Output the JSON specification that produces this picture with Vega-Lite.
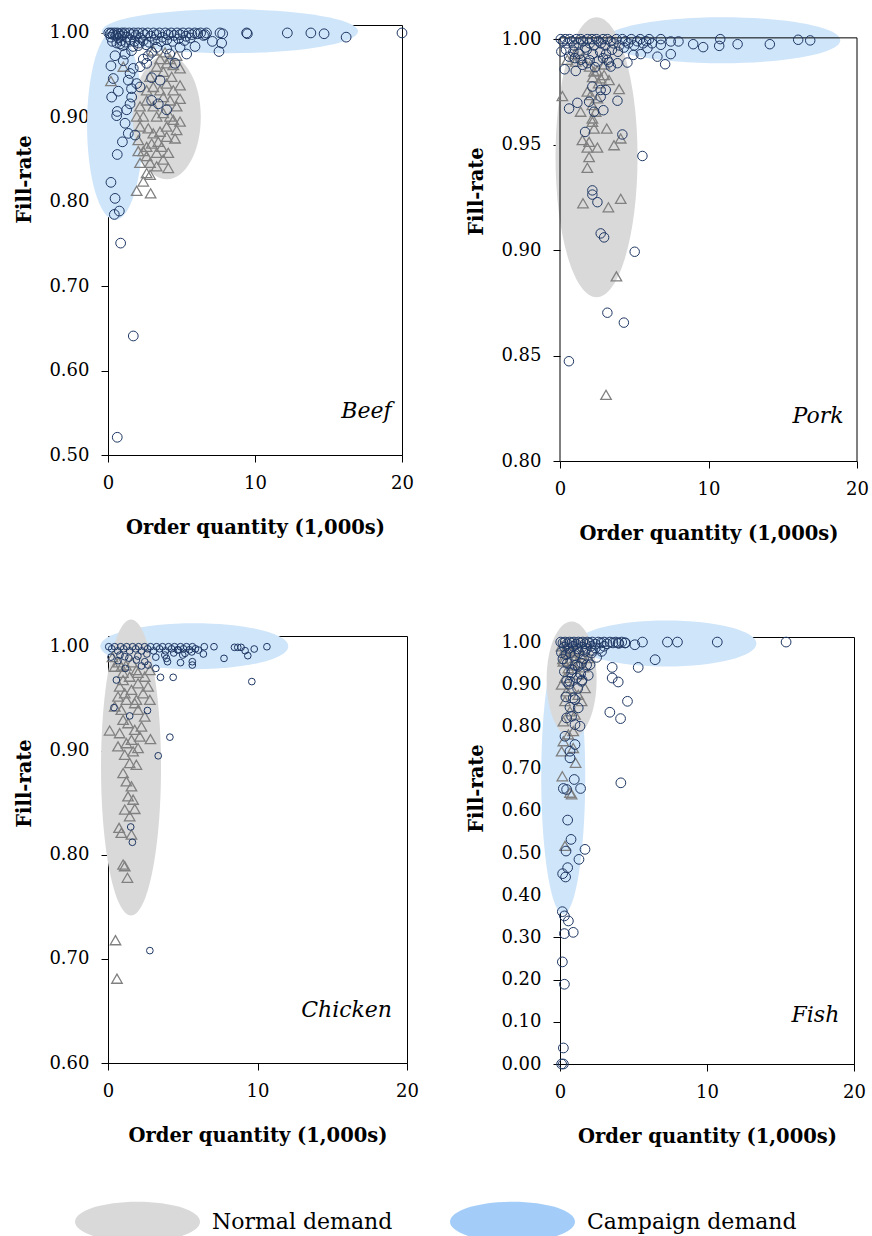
{
  "$schema": "https://vega.github.io/schema/vega-lite/v6.json",
  "background": "white",
  "padding": {"left": 14, "top": 8, "right": 5, "bottom": 5},
  "datasets": {
    "ellipses": [
      {"food": "Beef", "cluster": "campaign", "id": "beefC1", "qty": 8.3, "fill": 1.002},
      {"food": "Beef", "cluster": "campaign", "id": "beefC2", "qty": 0.48, "fill": 0.891},
      {"food": "Beef", "cluster": "normal", "id": "beefN", "qty": 4.0, "fill": 0.9},
      {"food": "Pork", "cluster": "campaign", "id": "porkC", "qty": 10.93, "fill": 0.9995},
      {"food": "Pork", "cluster": "normal", "id": "porkN", "qty": 2.46, "fill": 0.944},
      {"food": "Chicken", "cluster": "campaign", "id": "chickC", "qty": 5.77, "fill": 1.0005},
      {"food": "Chicken", "cluster": "normal", "id": "chickN", "qty": 1.54, "fill": 0.884},
      {"food": "Fish", "cluster": "campaign", "id": "fishC1", "qty": 7.24, "fill": 0.9965},
      {"food": "Fish", "cluster": "campaign", "id": "fishC2", "qty": 0.22, "fill": 0.68},
      {"food": "Fish", "cluster": "normal", "id": "fishN", "qty": 0.79, "fill": 0.911}
    ],
    "legendKeys": [{"demand": "Normal demand"}, {"demand": "Campaign demand"}],
    "points": [
      {"food":"Beef","demand":"Normal demand","qty":1.95,"fill":0.813},
      {"food":"Beef","demand":"Normal demand","qty":2.9,"fill":0.81},
      {"food":"Beef","demand":"Normal demand","qty":2.4,"fill":0.824},
      {"food":"Beef","demand":"Normal demand","qty":2.63,"fill":0.834},
      {"food":"Beef","demand":"Normal demand","qty":2.86,"fill":0.832},
      {"food":"Beef","demand":"Normal demand","qty":2.18,"fill":0.846},
      {"food":"Beef","demand":"Normal demand","qty":2.4,"fill":0.86},
      {"food":"Beef","demand":"Normal demand","qty":2.63,"fill":0.854},
      {"food":"Beef","demand":"Normal demand","qty":4.1,"fill":0.84},
      {"food":"Beef","demand":"Normal demand","qty":3.76,"fill":0.85},
      {"food":"Beef","demand":"Normal demand","qty":3.31,"fill":0.858},
      {"food":"Beef","demand":"Normal demand","qty":4.56,"fill":0.875},
      {"food":"Beef","demand":"Normal demand","qty":3.99,"fill":0.877},
      {"food":"Beef","demand":"Normal demand","qty":4.9,"fill":0.895},
      {"food":"Beef","demand":"Normal demand","qty":4.44,"fill":0.897},
      {"food":"Beef","demand":"Normal demand","qty":4.9,"fill":0.922},
      {"food":"Beef","demand":"Normal demand","qty":4.9,"fill":0.938},
      {"food":"Beef","demand":"Normal demand","qty":4.9,"fill":0.958},
      {"food":"Beef","demand":"Normal demand","qty":4.67,"fill":0.973},
      {"food":"Beef","demand":"Normal demand","qty":0.2,"fill":0.943},
      {"food":"Beef","demand":"Normal demand","qty":1.04,"fill":0.96},
      {"food":"Beef","demand":"Normal demand","qty":2.18,"fill":0.889},
      {"food":"Beef","demand":"Normal demand","qty":2.74,"fill":0.887},
      {"food":"Beef","demand":"Normal demand","qty":3.08,"fill":0.881},
      {"food":"Beef","demand":"Normal demand","qty":3.54,"fill":0.883},
      {"food":"Beef","demand":"Normal demand","qty":3.99,"fill":0.889},
      {"food":"Beef","demand":"Normal demand","qty":2.97,"fill":0.869},
      {"food":"Beef","demand":"Normal demand","qty":3.42,"fill":0.871},
      {"food":"Beef","demand":"Normal demand","qty":2.63,"fill":0.865},
      {"food":"Beef","demand":"Normal demand","qty":2.06,"fill":0.873},
      {"food":"Beef","demand":"Normal demand","qty":2.4,"fill":0.901},
      {"food":"Beef","demand":"Normal demand","qty":3.31,"fill":0.901},
      {"food":"Beef","demand":"Normal demand","qty":3.76,"fill":0.905},
      {"food":"Beef","demand":"Normal demand","qty":4.22,"fill":0.901},
      {"food":"Beef","demand":"Normal demand","qty":3.08,"fill":0.913},
      {"food":"Beef","demand":"Normal demand","qty":2.63,"fill":0.92},
      {"food":"Beef","demand":"Normal demand","qty":3.76,"fill":0.924},
      {"food":"Beef","demand":"Normal demand","qty":4.22,"fill":0.92},
      {"food":"Beef","demand":"Normal demand","qty":4.44,"fill":0.932},
      {"food":"Beef","demand":"Normal demand","qty":3.99,"fill":0.94},
      {"food":"Beef","demand":"Normal demand","qty":3.54,"fill":0.932},
      {"food":"Beef","demand":"Normal demand","qty":3.08,"fill":0.936},
      {"food":"Beef","demand":"Normal demand","qty":2.63,"fill":0.932},
      {"food":"Beef","demand":"Normal demand","qty":4.33,"fill":0.948},
      {"food":"Beef","demand":"Normal demand","qty":3.76,"fill":0.954},
      {"food":"Beef","demand":"Normal demand","qty":3.31,"fill":0.96},
      {"food":"Beef","demand":"Normal demand","qty":3.99,"fill":0.964},
      {"food":"Beef","demand":"Normal demand","qty":4.44,"fill":0.962},
      {"food":"Beef","demand":"Normal demand","qty":2.86,"fill":0.948},
      {"food":"Beef","demand":"Normal demand","qty":3.54,"fill":0.969},
      {"food":"Beef","demand":"Normal demand","qty":4.22,"fill":0.969},
      {"food":"Beef","demand":"Normal demand","qty":2.18,"fill":0.913},
      {"food":"Beef","demand":"Normal demand","qty":1.95,"fill":0.901},
      {"food":"Beef","demand":"Normal demand","qty":4.67,"fill":0.913},
      {"food":"Beef","demand":"Normal demand","qty":4.67,"fill":0.885},
      {"food":"Beef","demand":"Normal demand","qty":2.06,"fill":0.86},
      {"food":"Beef","demand":"Normal demand","qty":2.86,"fill":0.846},
      {"food":"Beef","demand":"Normal demand","qty":3.31,"fill":0.842},
      {"food":"Beef","demand":"Normal demand","qty":3.65,"fill":0.865},
      {"food":"Beef","demand":"Normal demand","qty":4.1,"fill":0.858},
      {"food":"Beef","demand":"Normal demand","qty":3.88,"fill":0.977},
      {"food":"Beef","demand":"Normal demand","qty":3.08,"fill":0.979},
      {"food":"Beef","demand":"Campaign demand","qty":0.05,"fill":1.0},
      {"food":"Beef","demand":"Campaign demand","qty":0.15,"fill":0.999},
      {"food":"Beef","demand":"Campaign demand","qty":0.25,"fill":1.0},
      {"food":"Beef","demand":"Campaign demand","qty":0.35,"fill":0.998},
      {"food":"Beef","demand":"Campaign demand","qty":0.45,"fill":1.0},
      {"food":"Beef","demand":"Campaign demand","qty":0.55,"fill":0.997},
      {"food":"Beef","demand":"Campaign demand","qty":0.65,"fill":1.0},
      {"food":"Beef","demand":"Campaign demand","qty":0.75,"fill":0.999},
      {"food":"Beef","demand":"Campaign demand","qty":0.85,"fill":0.996},
      {"food":"Beef","demand":"Campaign demand","qty":0.95,"fill":1.0},
      {"food":"Beef","demand":"Campaign demand","qty":1.05,"fill":0.998},
      {"food":"Beef","demand":"Campaign demand","qty":1.15,"fill":1.0},
      {"food":"Beef","demand":"Campaign demand","qty":1.3,"fill":0.995},
      {"food":"Beef","demand":"Campaign demand","qty":1.45,"fill":1.0},
      {"food":"Beef","demand":"Campaign demand","qty":1.6,"fill":0.998},
      {"food":"Beef","demand":"Campaign demand","qty":1.75,"fill":1.0},
      {"food":"Beef","demand":"Campaign demand","qty":1.9,"fill":0.997},
      {"food":"Beef","demand":"Campaign demand","qty":2.05,"fill":1.0},
      {"food":"Beef","demand":"Campaign demand","qty":2.2,"fill":0.994},
      {"food":"Beef","demand":"Campaign demand","qty":2.35,"fill":1.0},
      {"food":"Beef","demand":"Campaign demand","qty":2.5,"fill":0.998},
      {"food":"Beef","demand":"Campaign demand","qty":2.7,"fill":1.0},
      {"food":"Beef","demand":"Campaign demand","qty":2.9,"fill":0.996},
      {"food":"Beef","demand":"Campaign demand","qty":3.1,"fill":1.0},
      {"food":"Beef","demand":"Campaign demand","qty":3.3,"fill":0.998},
      {"food":"Beef","demand":"Campaign demand","qty":3.5,"fill":1.0},
      {"food":"Beef","demand":"Campaign demand","qty":3.7,"fill":0.995},
      {"food":"Beef","demand":"Campaign demand","qty":3.9,"fill":1.0},
      {"food":"Beef","demand":"Campaign demand","qty":4.1,"fill":0.998},
      {"food":"Beef","demand":"Campaign demand","qty":4.3,"fill":1.0},
      {"food":"Beef","demand":"Campaign demand","qty":4.5,"fill":0.997},
      {"food":"Beef","demand":"Campaign demand","qty":4.7,"fill":1.0},
      {"food":"Beef","demand":"Campaign demand","qty":4.9,"fill":0.998},
      {"food":"Beef","demand":"Campaign demand","qty":5.1,"fill":1.0},
      {"food":"Beef","demand":"Campaign demand","qty":5.3,"fill":0.996},
      {"food":"Beef","demand":"Campaign demand","qty":5.5,"fill":1.0},
      {"food":"Beef","demand":"Campaign demand","qty":5.7,"fill":0.998},
      {"food":"Beef","demand":"Campaign demand","qty":5.9,"fill":1.0},
      {"food":"Beef","demand":"Campaign demand","qty":6.1,"fill":0.999},
      {"food":"Beef","demand":"Campaign demand","qty":6.3,"fill":1.0},
      {"food":"Beef","demand":"Campaign demand","qty":6.6,"fill":0.998},
      {"food":"Beef","demand":"Campaign demand","qty":0.3,"fill":0.99},
      {"food":"Beef","demand":"Campaign demand","qty":0.6,"fill":0.988},
      {"food":"Beef","demand":"Campaign demand","qty":0.9,"fill":0.991},
      {"food":"Beef","demand":"Campaign demand","qty":1.2,"fill":0.989},
      {"food":"Beef","demand":"Campaign demand","qty":1.5,"fill":0.992},
      {"food":"Beef","demand":"Campaign demand","qty":1.8,"fill":0.99},
      {"food":"Beef","demand":"Campaign demand","qty":2.1,"fill":0.988},
      {"food":"Beef","demand":"Campaign demand","qty":2.4,"fill":0.991},
      {"food":"Beef","demand":"Campaign demand","qty":2.8,"fill":0.989},
      {"food":"Beef","demand":"Campaign demand","qty":3.2,"fill":0.992},
      {"food":"Beef","demand":"Campaign demand","qty":3.6,"fill":0.99},
      {"food":"Beef","demand":"Campaign demand","qty":4.0,"fill":0.992},
      {"food":"Beef","demand":"Campaign demand","qty":4.4,"fill":0.99},
      {"food":"Beef","demand":"Campaign demand","qty":4.8,"fill":0.993},
      {"food":"Beef","demand":"Campaign demand","qty":5.2,"fill":0.991},
      {"food":"Beef","demand":"Campaign demand","qty":5.6,"fill":0.994},
      {"food":"Beef","demand":"Campaign demand","qty":0.2,"fill":0.995},
      {"food":"Beef","demand":"Campaign demand","qty":0.7,"fill":0.994},
      {"food":"Beef","demand":"Campaign demand","qty":1.0,"fill":0.985},
      {"food":"Beef","demand":"Campaign demand","qty":1.7,"fill":0.984},
      {"food":"Beef","demand":"Campaign demand","qty":2.6,"fill":0.986},
      {"food":"Beef","demand":"Campaign demand","qty":6.7,"fill":1.0},
      {"food":"Beef","demand":"Campaign demand","qty":6.5,"fill":0.997},
      {"food":"Beef","demand":"Campaign demand","qty":7.62,"fill":1.0},
      {"food":"Beef","demand":"Campaign demand","qty":7.8,"fill":0.999},
      {"food":"Beef","demand":"Campaign demand","qty":9.43,"fill":1.0},
      {"food":"Beef","demand":"Campaign demand","qty":9.48,"fill":0.999},
      {"food":"Beef","demand":"Campaign demand","qty":12.2,"fill":1.0},
      {"food":"Beef","demand":"Campaign demand","qty":13.8,"fill":1.0},
      {"food":"Beef","demand":"Campaign demand","qty":14.7,"fill":0.999},
      {"food":"Beef","demand":"Campaign demand","qty":16.2,"fill":0.995},
      {"food":"Beef","demand":"Campaign demand","qty":20.0,"fill":1.0},
      {"food":"Beef","demand":"Campaign demand","qty":7.55,"fill":0.978},
      {"food":"Beef","demand":"Campaign demand","qty":7.73,"fill":0.988},
      {"food":"Beef","demand":"Campaign demand","qty":7.1,"fill":0.99},
      {"food":"Beef","demand":"Campaign demand","qty":5.35,"fill":0.975},
      {"food":"Beef","demand":"Campaign demand","qty":4.56,"fill":0.964},
      {"food":"Beef","demand":"Campaign demand","qty":5.92,"fill":0.984},
      {"food":"Beef","demand":"Campaign demand","qty":0.2,"fill":0.961},
      {"food":"Beef","demand":"Campaign demand","qty":0.36,"fill":0.946},
      {"food":"Beef","demand":"Campaign demand","qty":0.25,"fill":0.924},
      {"food":"Beef","demand":"Campaign demand","qty":0.7,"fill":0.931},
      {"food":"Beef","demand":"Campaign demand","qty":0.63,"fill":0.907},
      {"food":"Beef","demand":"Campaign demand","qty":0.59,"fill":0.902},
      {"food":"Beef","demand":"Campaign demand","qty":1.16,"fill":0.893},
      {"food":"Beef","demand":"Campaign demand","qty":1.38,"fill":0.881},
      {"food":"Beef","demand":"Campaign demand","qty":1.84,"fill":0.879},
      {"food":"Beef","demand":"Campaign demand","qty":0.98,"fill":0.871},
      {"food":"Beef","demand":"Campaign demand","qty":0.63,"fill":0.856},
      {"food":"Beef","demand":"Campaign demand","qty":0.2,"fill":0.823},
      {"food":"Beef","demand":"Campaign demand","qty":0.48,"fill":0.804},
      {"food":"Beef","demand":"Campaign demand","qty":0.43,"fill":0.785},
      {"food":"Beef","demand":"Campaign demand","qty":0.77,"fill":0.789},
      {"food":"Beef","demand":"Campaign demand","qty":0.86,"fill":0.751},
      {"food":"Beef","demand":"Campaign demand","qty":1.72,"fill":0.641},
      {"food":"Beef","demand":"Campaign demand","qty":0.63,"fill":0.521},
      {"food":"Beef","demand":"Campaign demand","qty":2.97,"fill":0.947},
      {"food":"Beef","demand":"Campaign demand","qty":3.54,"fill":0.944},
      {"food":"Beef","demand":"Campaign demand","qty":2.97,"fill":0.92},
      {"food":"Beef","demand":"Campaign demand","qty":3.42,"fill":0.916},
      {"food":"Beef","demand":"Campaign demand","qty":3.99,"fill":0.909},
      {"food":"Beef","demand":"Campaign demand","qty":1.5,"fill":0.952},
      {"food":"Beef","demand":"Campaign demand","qty":1.72,"fill":0.958},
      {"food":"Beef","demand":"Campaign demand","qty":1.95,"fill":0.94},
      {"food":"Beef","demand":"Campaign demand","qty":2.63,"fill":0.964},
      {"food":"Beef","demand":"Campaign demand","qty":2.74,"fill":0.973},
      {"food":"Beef","demand":"Campaign demand","qty":1.38,"fill":0.944},
      {"food":"Beef","demand":"Campaign demand","qty":1.5,"fill":0.916},
      {"food":"Beef","demand":"Campaign demand","qty":1.27,"fill":0.909},
      {"food":"Beef","demand":"Campaign demand","qty":1.61,"fill":0.924},
      {"food":"Beef","demand":"Campaign demand","qty":2.18,"fill":0.936},
      {"food":"Beef","demand":"Campaign demand","qty":1.16,"fill":0.975},
      {"food":"Beef","demand":"Campaign demand","qty":3.99,"fill":0.981},
      {"food":"Beef","demand":"Campaign demand","qty":3.31,"fill":0.983},
      {"food":"Beef","demand":"Campaign demand","qty":2.4,"fill":0.969},
      {"food":"Beef","demand":"Campaign demand","qty":2.18,"fill":0.96},
      {"food":"Beef","demand":"Campaign demand","qty":0.82,"fill":0.987},
      {"food":"Beef","demand":"Campaign demand","qty":0.48,"fill":0.973},
      {"food":"Beef","demand":"Campaign demand","qty":1.6,"fill":0.979},
      {"food":"Beef","demand":"Campaign demand","qty":2.06,"fill":0.985},
      {"food":"Beef","demand":"Campaign demand","qty":2.97,"fill":0.977},
      {"food":"Beef","demand":"Campaign demand","qty":4.2,"fill":0.975},
      {"food":"Beef","demand":"Campaign demand","qty":4.9,"fill":0.983},
      {"food":"Beef","demand":"Campaign demand","qty":1.04,"fill":0.967},
      {"food":"Beef","demand":"Campaign demand","qty":1.6,"fill":0.934},

      {"food":"Pork","demand":"Normal demand","qty":0.16,"fill":0.973},
      {"food":"Pork","demand":"Normal demand","qty":1.51,"fill":0.9521},
      {"food":"Pork","demand":"Normal demand","qty":1.84,"fill":0.9486},
      {"food":"Pork","demand":"Normal demand","qty":1.96,"fill":0.9441},
      {"food":"Pork","demand":"Normal demand","qty":1.84,"fill":0.939},
      {"food":"Pork","demand":"Normal demand","qty":2.52,"fill":0.9486},
      {"food":"Pork","demand":"Normal demand","qty":3.15,"fill":0.9576},
      {"food":"Pork","demand":"Normal demand","qty":3.64,"fill":0.9497},
      {"food":"Pork","demand":"Normal demand","qty":4.09,"fill":0.9529},
      {"food":"Pork","demand":"Normal demand","qty":3.98,"fill":0.9763},
      {"food":"Pork","demand":"Normal demand","qty":3.3,"fill":0.9806},
      {"food":"Pork","demand":"Normal demand","qty":1.55,"fill":0.9222},
      {"food":"Pork","demand":"Normal demand","qty":3.26,"fill":0.9203},
      {"food":"Pork","demand":"Normal demand","qty":4.09,"fill":0.9243},
      {"food":"Pork","demand":"Normal demand","qty":3.8,"fill":0.8875},
      {"food":"Pork","demand":"Normal demand","qty":1.39,"fill":0.9656},
      {"food":"Pork","demand":"Normal demand","qty":2.18,"fill":0.9624},
      {"food":"Pork","demand":"Normal demand","qty":2.4,"fill":0.9656},
      {"food":"Pork","demand":"Normal demand","qty":1.84,"fill":0.9751},
      {"food":"Pork","demand":"Normal demand","qty":2.74,"fill":0.9814},
      {"food":"Pork","demand":"Normal demand","qty":2.29,"fill":0.9846},
      {"food":"Pork","demand":"Normal demand","qty":2.97,"fill":0.983},
      {"food":"Pork","demand":"Normal demand","qty":2.07,"fill":0.9735},
      {"food":"Pork","demand":"Normal demand","qty":2.52,"fill":0.9719},
      {"food":"Pork","demand":"Normal demand","qty":2.18,"fill":0.9687},
      {"food":"Pork","demand":"Normal demand","qty":2.18,"fill":0.9608},
      {"food":"Pork","demand":"Normal demand","qty":2.29,"fill":0.9576},
      {"food":"Pork","demand":"Normal demand","qty":1.96,"fill":0.9513},
      {"food":"Pork","demand":"Normal demand","qty":1.06,"fill":0.9894},
      {"food":"Pork","demand":"Normal demand","qty":0.49,"fill":0.9902},
      {"food":"Pork","demand":"Normal demand","qty":3.1,"fill":0.8314},
      {"food":"Pork","demand":"Normal demand","qty":1.0,"fill":0.993},
      {"food":"Pork","demand":"Normal demand","qty":1.5,"fill":0.991},
      {"food":"Pork","demand":"Normal demand","qty":2.0,"fill":0.987},
      {"food":"Pork","demand":"Normal demand","qty":2.5,"fill":0.985},
      {"food":"Pork","demand":"Normal demand","qty":3.0,"fill":0.988},
      {"food":"Pork","demand":"Normal demand","qty":2.2,"fill":0.982},
      {"food":"Pork","demand":"Normal demand","qty":2.6,"fill":0.979},
      {"food":"Pork","demand":"Campaign demand","qty":0.05,"fill":1.0},
      {"food":"Pork","demand":"Campaign demand","qty":0.2,"fill":0.999},
      {"food":"Pork","demand":"Campaign demand","qty":0.35,"fill":1.0},
      {"food":"Pork","demand":"Campaign demand","qty":0.5,"fill":0.998},
      {"food":"Pork","demand":"Campaign demand","qty":0.65,"fill":1.0},
      {"food":"Pork","demand":"Campaign demand","qty":0.8,"fill":0.999},
      {"food":"Pork","demand":"Campaign demand","qty":0.95,"fill":0.997},
      {"food":"Pork","demand":"Campaign demand","qty":1.1,"fill":1.0},
      {"food":"Pork","demand":"Campaign demand","qty":1.25,"fill":0.998},
      {"food":"Pork","demand":"Campaign demand","qty":1.4,"fill":1.0},
      {"food":"Pork","demand":"Campaign demand","qty":1.55,"fill":0.999},
      {"food":"Pork","demand":"Campaign demand","qty":1.7,"fill":0.996},
      {"food":"Pork","demand":"Campaign demand","qty":1.85,"fill":1.0},
      {"food":"Pork","demand":"Campaign demand","qty":2.0,"fill":0.998},
      {"food":"Pork","demand":"Campaign demand","qty":2.15,"fill":1.0},
      {"food":"Pork","demand":"Campaign demand","qty":2.3,"fill":0.997},
      {"food":"Pork","demand":"Campaign demand","qty":2.45,"fill":1.0},
      {"food":"Pork","demand":"Campaign demand","qty":2.6,"fill":0.999},
      {"food":"Pork","demand":"Campaign demand","qty":2.75,"fill":0.998},
      {"food":"Pork","demand":"Campaign demand","qty":2.9,"fill":1.0},
      {"food":"Pork","demand":"Campaign demand","qty":3.05,"fill":0.997},
      {"food":"Pork","demand":"Campaign demand","qty":3.2,"fill":1.0},
      {"food":"Pork","demand":"Campaign demand","qty":3.4,"fill":0.999},
      {"food":"Pork","demand":"Campaign demand","qty":3.6,"fill":0.998},
      {"food":"Pork","demand":"Campaign demand","qty":3.8,"fill":1.0},
      {"food":"Pork","demand":"Campaign demand","qty":4.0,"fill":0.997},
      {"food":"Pork","demand":"Campaign demand","qty":4.2,"fill":1.0},
      {"food":"Pork","demand":"Campaign demand","qty":4.4,"fill":0.999},
      {"food":"Pork","demand":"Campaign demand","qty":4.6,"fill":0.998},
      {"food":"Pork","demand":"Campaign demand","qty":4.8,"fill":1.0},
      {"food":"Pork","demand":"Campaign demand","qty":5.0,"fill":0.997},
      {"food":"Pork","demand":"Campaign demand","qty":5.2,"fill":0.999},
      {"food":"Pork","demand":"Campaign demand","qty":5.4,"fill":1.0},
      {"food":"Pork","demand":"Campaign demand","qty":5.6,"fill":0.998},
      {"food":"Pork","demand":"Campaign demand","qty":5.8,"fill":0.999},
      {"food":"Pork","demand":"Campaign demand","qty":6.0,"fill":1.0},
      {"food":"Pork","demand":"Campaign demand","qty":6.2,"fill":0.998},
      {"food":"Pork","demand":"Campaign demand","qty":0.4,"fill":0.995},
      {"food":"Pork","demand":"Campaign demand","qty":0.9,"fill":0.994},
      {"food":"Pork","demand":"Campaign demand","qty":1.3,"fill":0.993},
      {"food":"Pork","demand":"Campaign demand","qty":1.8,"fill":0.995},
      {"food":"Pork","demand":"Campaign demand","qty":2.2,"fill":0.993},
      {"food":"Pork","demand":"Campaign demand","qty":2.7,"fill":0.994},
      {"food":"Pork","demand":"Campaign demand","qty":3.1,"fill":0.993},
      {"food":"Pork","demand":"Campaign demand","qty":3.5,"fill":0.995},
      {"food":"Pork","demand":"Campaign demand","qty":3.9,"fill":0.994},
      {"food":"Pork","demand":"Campaign demand","qty":4.3,"fill":0.996},
      {"food":"Pork","demand":"Campaign demand","qty":1.0,"fill":0.991},
      {"food":"Pork","demand":"Campaign demand","qty":2.0,"fill":0.99},
      {"food":"Pork","demand":"Campaign demand","qty":2.9,"fill":0.991},
      {"food":"Pork","demand":"Campaign demand","qty":3.3,"fill":0.989},
      {"food":"Pork","demand":"Campaign demand","qty":6.79,"fill":1.0},
      {"food":"Pork","demand":"Campaign demand","qty":7.46,"fill":0.9989},
      {"food":"Pork","demand":"Campaign demand","qty":7.98,"fill":0.9989},
      {"food":"Pork","demand":"Campaign demand","qty":8.97,"fill":0.9976},
      {"food":"Pork","demand":"Campaign demand","qty":9.64,"fill":0.9962},
      {"food":"Pork","demand":"Campaign demand","qty":10.72,"fill":0.9968},
      {"food":"Pork","demand":"Campaign demand","qty":10.79,"fill":1.0},
      {"food":"Pork","demand":"Campaign demand","qty":11.96,"fill":0.9976},
      {"food":"Pork","demand":"Campaign demand","qty":14.13,"fill":0.9976},
      {"food":"Pork","demand":"Campaign demand","qty":16.04,"fill":0.9997},
      {"food":"Pork","demand":"Campaign demand","qty":16.85,"fill":0.9994},
      {"food":"Pork","demand":"Campaign demand","qty":6.56,"fill":0.9917},
      {"food":"Pork","demand":"Campaign demand","qty":7.46,"fill":0.9929},
      {"food":"Pork","demand":"Campaign demand","qty":7.08,"fill":0.9881},
      {"food":"Pork","demand":"Campaign demand","qty":6.79,"fill":0.9973},
      {"food":"Pork","demand":"Campaign demand","qty":5.44,"fill":0.9929},
      {"food":"Pork","demand":"Campaign demand","qty":4.54,"fill":0.9889},
      {"food":"Pork","demand":"Campaign demand","qty":0.09,"fill":0.9941},
      {"food":"Pork","demand":"Campaign demand","qty":0.61,"fill":0.9917},
      {"food":"Pork","demand":"Campaign demand","qty":0.31,"fill":0.9857},
      {"food":"Pork","demand":"Campaign demand","qty":1.06,"fill":0.9849},
      {"food":"Pork","demand":"Campaign demand","qty":1.51,"fill":0.9878},
      {"food":"Pork","demand":"Campaign demand","qty":0.61,"fill":0.9671},
      {"food":"Pork","demand":"Campaign demand","qty":1.17,"fill":0.9698},
      {"food":"Pork","demand":"Campaign demand","qty":1.96,"fill":0.9703},
      {"food":"Pork","demand":"Campaign demand","qty":2.29,"fill":0.9656},
      {"food":"Pork","demand":"Campaign demand","qty":2.92,"fill":0.9663},
      {"food":"Pork","demand":"Campaign demand","qty":2.18,"fill":0.9775},
      {"food":"Pork","demand":"Campaign demand","qty":2.74,"fill":0.9759},
      {"food":"Pork","demand":"Campaign demand","qty":3.08,"fill":0.9759},
      {"food":"Pork","demand":"Campaign demand","qty":3.87,"fill":0.9708},
      {"food":"Pork","demand":"Campaign demand","qty":1.69,"fill":0.956},
      {"food":"Pork","demand":"Campaign demand","qty":4.2,"fill":0.9548},
      {"food":"Pork","demand":"Campaign demand","qty":5.55,"fill":0.9446},
      {"food":"Pork","demand":"Campaign demand","qty":2.18,"fill":0.9283},
      {"food":"Pork","demand":"Campaign demand","qty":2.18,"fill":0.9263},
      {"food":"Pork","demand":"Campaign demand","qty":2.52,"fill":0.9227},
      {"food":"Pork","demand":"Campaign demand","qty":2.74,"fill":0.9079},
      {"food":"Pork","demand":"Campaign demand","qty":2.97,"fill":0.906},
      {"food":"Pork","demand":"Campaign demand","qty":5.03,"fill":0.8992},
      {"food":"Pork","demand":"Campaign demand","qty":2.36,"fill":0.9867},
      {"food":"Pork","demand":"Campaign demand","qty":3.19,"fill":0.9902},
      {"food":"Pork","demand":"Campaign demand","qty":3.42,"fill":0.987},
      {"food":"Pork","demand":"Campaign demand","qty":1.84,"fill":0.9886},
      {"food":"Pork","demand":"Campaign demand","qty":1.39,"fill":0.9902},
      {"food":"Pork","demand":"Campaign demand","qty":2.52,"fill":0.9894},
      {"food":"Pork","demand":"Campaign demand","qty":3.87,"fill":0.9886},
      {"food":"Pork","demand":"Campaign demand","qty":4.94,"fill":0.9925},
      {"food":"Pork","demand":"Campaign demand","qty":5.89,"fill":0.9957},
      {"food":"Pork","demand":"Campaign demand","qty":2.74,"fill":0.9727},
      {"food":"Pork","demand":"Campaign demand","qty":3.19,"fill":0.8703},
      {"food":"Pork","demand":"Campaign demand","qty":4.3,"fill":0.8656},
      {"food":"Pork","demand":"Campaign demand","qty":0.6,"fill":0.8473},

      {"food":"Chicken","demand":"Normal demand","qty":0.11,"fill":0.9195},
      {"food":"Chicken","demand":"Normal demand","qty":2.8,"fill":0.9489},
      {"food":"Chicken","demand":"Normal demand","qty":2.84,"fill":0.9112},
      {"food":"Chicken","demand":"Normal demand","qty":0.74,"fill":0.8259},
      {"food":"Chicken","demand":"Normal demand","qty":1.01,"fill":0.7907},
      {"food":"Chicken","demand":"Normal demand","qty":1.12,"fill":0.7891},
      {"food":"Chicken","demand":"Normal demand","qty":1.3,"fill":0.778},
      {"food":"Chicken","demand":"Normal demand","qty":0.5,"fill":0.718},
      {"food":"Chicken","demand":"Normal demand","qty":0.6,"fill":0.681},
      {"food":"Chicken","demand":"Normal demand","qty":0.45,"fill":0.9808},
      {"food":"Chicken","demand":"Normal demand","qty":0.78,"fill":0.9617},
      {"food":"Chicken","demand":"Normal demand","qty":1.12,"fill":0.9553},
      {"food":"Chicken","demand":"Normal demand","qty":1.57,"fill":0.9585},
      {"food":"Chicken","demand":"Normal demand","qty":1.9,"fill":0.9489},
      {"food":"Chicken","demand":"Normal demand","qty":0.89,"fill":0.9393},
      {"food":"Chicken","demand":"Normal demand","qty":1.34,"fill":0.9265},
      {"food":"Chicken","demand":"Normal demand","qty":1.79,"fill":0.9201},
      {"food":"Chicken","demand":"Normal demand","qty":2.13,"fill":0.9137},
      {"food":"Chicken","demand":"Normal demand","qty":1.57,"fill":0.9105},
      {"food":"Chicken","demand":"Normal demand","qty":2.01,"fill":0.9026},
      {"food":"Chicken","demand":"Normal demand","qty":1.12,"fill":0.8962},
      {"food":"Chicken","demand":"Normal demand","qty":1.45,"fill":0.8882},
      {"food":"Chicken","demand":"Normal demand","qty":1.9,"fill":0.8866},
      {"food":"Chicken","demand":"Normal demand","qty":1.01,"fill":0.8786},
      {"food":"Chicken","demand":"Normal demand","qty":1.23,"fill":0.8706},
      {"food":"Chicken","demand":"Normal demand","qty":1.57,"fill":0.8658},
      {"food":"Chicken","demand":"Normal demand","qty":1.34,"fill":0.8562},
      {"food":"Chicken","demand":"Normal demand","qty":1.68,"fill":0.853},
      {"food":"Chicken","demand":"Normal demand","qty":1.12,"fill":0.8435},
      {"food":"Chicken","demand":"Normal demand","qty":1.79,"fill":0.8441},
      {"food":"Chicken","demand":"Normal demand","qty":1.45,"fill":0.8371},
      {"food":"Chicken","demand":"Normal demand","qty":0.89,"fill":0.8211},
      {"food":"Chicken","demand":"Normal demand","qty":1.57,"fill":0.8195},
      {"food":"Chicken","demand":"Normal demand","qty":0.67,"fill":0.9521},
      {"food":"Chicken","demand":"Normal demand","qty":1.01,"fill":0.968},
      {"food":"Chicken","demand":"Normal demand","qty":1.45,"fill":0.9712},
      {"food":"Chicken","demand":"Normal demand","qty":2.01,"fill":0.9649},
      {"food":"Chicken","demand":"Normal demand","qty":2.46,"fill":0.9712},
      {"food":"Chicken","demand":"Normal demand","qty":0.45,"fill":0.9425},
      {"food":"Chicken","demand":"Normal demand","qty":1.01,"fill":0.9297},
      {"food":"Chicken","demand":"Normal demand","qty":0.78,"fill":0.9169},
      {"food":"Chicken","demand":"Normal demand","qty":1.23,"fill":0.9073},
      {"food":"Chicken","demand":"Normal demand","qty":0.67,"fill":0.9042},
      {"food":"Chicken","demand":"Normal demand","qty":1.68,"fill":0.8994},
      {"food":"Chicken","demand":"Normal demand","qty":2.24,"fill":0.9233},
      {"food":"Chicken","demand":"Normal demand","qty":2.46,"fill":0.9329},
      {"food":"Chicken","demand":"Normal demand","qty":2.01,"fill":0.9393},
      {"food":"Chicken","demand":"Normal demand","qty":1.79,"fill":0.9457},
      {"food":"Chicken","demand":"Normal demand","qty":1.23,"fill":0.9489},
      {"food":"Chicken","demand":"Normal demand","qty":2.35,"fill":0.9553},
      {"food":"Chicken","demand":"Normal demand","qty":2.68,"fill":0.9617},
      {"food":"Chicken","demand":"Normal demand","qty":2.8,"fill":0.9776},
      {"food":"Chicken","demand":"Normal demand","qty":0.89,"fill":0.9808},
      {"food":"Chicken","demand":"Normal demand","qty":1.9,"fill":0.9776},
      {"food":"Chicken","demand":"Normal demand","qty":0.3,"fill":0.99},
      {"food":"Chicken","demand":"Normal demand","qty":0.7,"fill":0.985},
      {"food":"Chicken","demand":"Normal demand","qty":1.2,"fill":0.982},
      {"food":"Chicken","demand":"Normal demand","qty":1.6,"fill":0.985},
      {"food":"Chicken","demand":"Normal demand","qty":2.0,"fill":0.975},
      {"food":"Chicken","demand":"Normal demand","qty":1.0,"fill":0.975},
      {"food":"Chicken","demand":"Campaign demand","qty":0.05,"fill":1.0},
      {"food":"Chicken","demand":"Campaign demand","qty":0.25,"fill":0.998},
      {"food":"Chicken","demand":"Campaign demand","qty":0.45,"fill":1.0},
      {"food":"Chicken","demand":"Campaign demand","qty":0.65,"fill":0.996},
      {"food":"Chicken","demand":"Campaign demand","qty":0.85,"fill":1.0},
      {"food":"Chicken","demand":"Campaign demand","qty":1.05,"fill":0.998},
      {"food":"Chicken","demand":"Campaign demand","qty":1.25,"fill":1.0},
      {"food":"Chicken","demand":"Campaign demand","qty":1.45,"fill":0.996},
      {"food":"Chicken","demand":"Campaign demand","qty":1.65,"fill":1.0},
      {"food":"Chicken","demand":"Campaign demand","qty":1.85,"fill":0.998},
      {"food":"Chicken","demand":"Campaign demand","qty":2.05,"fill":1.0},
      {"food":"Chicken","demand":"Campaign demand","qty":2.25,"fill":0.996},
      {"food":"Chicken","demand":"Campaign demand","qty":2.45,"fill":1.0},
      {"food":"Chicken","demand":"Campaign demand","qty":2.65,"fill":0.998},
      {"food":"Chicken","demand":"Campaign demand","qty":2.85,"fill":1.0},
      {"food":"Chicken","demand":"Campaign demand","qty":3.05,"fill":0.996},
      {"food":"Chicken","demand":"Campaign demand","qty":3.25,"fill":1.0},
      {"food":"Chicken","demand":"Campaign demand","qty":3.45,"fill":0.998},
      {"food":"Chicken","demand":"Campaign demand","qty":3.65,"fill":1.0},
      {"food":"Chicken","demand":"Campaign demand","qty":3.85,"fill":0.996},
      {"food":"Chicken","demand":"Campaign demand","qty":4.05,"fill":1.0},
      {"food":"Chicken","demand":"Campaign demand","qty":4.25,"fill":0.998},
      {"food":"Chicken","demand":"Campaign demand","qty":4.45,"fill":1.0},
      {"food":"Chicken","demand":"Campaign demand","qty":4.65,"fill":0.997},
      {"food":"Chicken","demand":"Campaign demand","qty":4.85,"fill":1.0},
      {"food":"Chicken","demand":"Campaign demand","qty":5.05,"fill":0.998},
      {"food":"Chicken","demand":"Campaign demand","qty":5.25,"fill":1.0},
      {"food":"Chicken","demand":"Campaign demand","qty":5.45,"fill":0.997},
      {"food":"Chicken","demand":"Campaign demand","qty":5.65,"fill":1.0},
      {"food":"Chicken","demand":"Campaign demand","qty":5.85,"fill":0.998},
      {"food":"Chicken","demand":"Campaign demand","qty":0.2,"fill":0.99},
      {"food":"Chicken","demand":"Campaign demand","qty":0.8,"fill":0.992},
      {"food":"Chicken","demand":"Campaign demand","qty":1.4,"fill":0.989},
      {"food":"Chicken","demand":"Campaign demand","qty":2.0,"fill":0.991},
      {"food":"Chicken","demand":"Campaign demand","qty":2.6,"fill":0.993},
      {"food":"Chicken","demand":"Campaign demand","qty":3.2,"fill":0.99},
      {"food":"Chicken","demand":"Campaign demand","qty":3.8,"fill":0.992},
      {"food":"Chicken","demand":"Campaign demand","qty":4.4,"fill":0.994},
      {"food":"Chicken","demand":"Campaign demand","qty":5.0,"fill":0.992},
      {"food":"Chicken","demand":"Campaign demand","qty":5.6,"fill":0.995},
      {"food":"Chicken","demand":"Campaign demand","qty":7.09,"fill":1.0},
      {"food":"Chicken","demand":"Campaign demand","qty":7.76,"fill":0.9888},
      {"food":"Chicken","demand":"Campaign demand","qty":8.46,"fill":0.9994},
      {"food":"Chicken","demand":"Campaign demand","qty":8.68,"fill":0.9994},
      {"food":"Chicken","demand":"Campaign demand","qty":8.9,"fill":0.9994},
      {"food":"Chicken","demand":"Campaign demand","qty":9.17,"fill":0.9962},
      {"food":"Chicken","demand":"Campaign demand","qty":9.35,"fill":0.9914},
      {"food":"Chicken","demand":"Campaign demand","qty":9.78,"fill":0.9978},
      {"food":"Chicken","demand":"Campaign demand","qty":10.63,"fill":1.0},
      {"food":"Chicken","demand":"Campaign demand","qty":9.62,"fill":0.9665},
      {"food":"Chicken","demand":"Campaign demand","qty":6.44,"fill":1.0},
      {"food":"Chicken","demand":"Campaign demand","qty":6.38,"fill":0.993},
      {"food":"Chicken","demand":"Campaign demand","qty":5.64,"fill":0.9856},
      {"food":"Chicken","demand":"Campaign demand","qty":5.64,"fill":0.9824},
      {"food":"Chicken","demand":"Campaign demand","qty":4.85,"fill":0.9847},
      {"food":"Chicken","demand":"Campaign demand","qty":4.36,"fill":0.9706},
      {"food":"Chicken","demand":"Campaign demand","qty":3.51,"fill":0.9706},
      {"food":"Chicken","demand":"Campaign demand","qty":3.2,"fill":0.9792},
      {"food":"Chicken","demand":"Campaign demand","qty":3.98,"fill":0.9856},
      {"food":"Chicken","demand":"Campaign demand","qty":3.91,"fill":0.9888},
      {"food":"Chicken","demand":"Campaign demand","qty":2.68,"fill":0.9824},
      {"food":"Chicken","demand":"Campaign demand","qty":2.24,"fill":0.9815},
      {"food":"Chicken","demand":"Campaign demand","qty":1.16,"fill":0.9792},
      {"food":"Chicken","demand":"Campaign demand","qty":0.56,"fill":0.968},
      {"food":"Chicken","demand":"Campaign demand","qty":0.4,"fill":0.9415},
      {"food":"Chicken","demand":"Campaign demand","qty":1.45,"fill":0.9335},
      {"food":"Chicken","demand":"Campaign demand","qty":2.64,"fill":0.9387},
      {"food":"Chicken","demand":"Campaign demand","qty":4.14,"fill":0.9131},
      {"food":"Chicken","demand":"Campaign demand","qty":3.36,"fill":0.8952},
      {"food":"Chicken","demand":"Campaign demand","qty":1.52,"fill":0.8268},
      {"food":"Chicken","demand":"Campaign demand","qty":1.63,"fill":0.8121},
      {"food":"Chicken","demand":"Campaign demand","qty":0.67,"fill":0.9866},
      {"food":"Chicken","demand":"Campaign demand","qty":2.8,"fill":0.708},
      {"food":"Chicken","demand":"Campaign demand","qty":1.12,"fill":0.9904},
      {"food":"Chicken","demand":"Campaign demand","qty":1.9,"fill":0.9872},
      {"food":"Chicken","demand":"Campaign demand","qty":2.46,"fill":0.9856},
      {"food":"Chicken","demand":"Campaign demand","qty":5.15,"fill":0.9936},
      {"food":"Chicken","demand":"Campaign demand","qty":4.7,"fill":0.9968},
      {"food":"Chicken","demand":"Campaign demand","qty":6.04,"fill":0.9968},

      {"food":"Fish","demand":"Normal demand","qty":0.16,"fill":0.682},
      {"food":"Fish","demand":"Normal demand","qty":0.68,"fill":0.643},
      {"food":"Fish","demand":"Normal demand","qty":1.06,"fill":0.714},
      {"food":"Fish","demand":"Normal demand","qty":0.34,"fill":0.517},
      {"food":"Fish","demand":"Normal demand","qty":0.79,"fill":0.639},
      {"food":"Fish","demand":"Normal demand","qty":0.23,"fill":0.765},
      {"food":"Fish","demand":"Normal demand","qty":0.57,"fill":0.781},
      {"food":"Fish","demand":"Normal demand","qty":0.9,"fill":0.749},
      {"food":"Fish","demand":"Normal demand","qty":0.11,"fill":0.899},
      {"food":"Fish","demand":"Normal demand","qty":0.45,"fill":0.883},
      {"food":"Fish","demand":"Normal demand","qty":0.79,"fill":0.891},
      {"food":"Fish","demand":"Normal demand","qty":1.24,"fill":0.875},
      {"food":"Fish","demand":"Normal demand","qty":0.34,"fill":0.86},
      {"food":"Fish","demand":"Normal demand","qty":0.68,"fill":0.836},
      {"food":"Fish","demand":"Normal demand","qty":1.02,"fill":0.828},
      {"food":"Fish","demand":"Normal demand","qty":0.23,"fill":0.812},
      {"food":"Fish","demand":"Normal demand","qty":1.47,"fill":0.86},
      {"food":"Fish","demand":"Normal demand","qty":0.57,"fill":0.938},
      {"food":"Fish","demand":"Normal demand","qty":0.23,"fill":0.954},
      {"food":"Fish","demand":"Normal demand","qty":1.02,"fill":0.962},
      {"food":"Fish","demand":"Normal demand","qty":1.47,"fill":0.97},
      {"food":"Fish","demand":"Normal demand","qty":0.68,"fill":0.978},
      {"food":"Fish","demand":"Normal demand","qty":1.92,"fill":0.962},
      {"food":"Fish","demand":"Normal demand","qty":1.24,"fill":0.923},
      {"food":"Fish","demand":"Normal demand","qty":0.34,"fill":0.915},
      {"food":"Fish","demand":"Normal demand","qty":1.7,"fill":0.891},
      {"food":"Fish","demand":"Normal demand","qty":0.9,"fill":0.789},
      {"food":"Fish","demand":"Normal demand","qty":0.11,"fill":0.741},
      {"food":"Fish","demand":"Normal demand","qty":0.1,"fill":0.99},
      {"food":"Fish","demand":"Normal demand","qty":0.3,"fill":0.98},
      {"food":"Fish","demand":"Normal demand","qty":0.5,"fill":0.985},
      {"food":"Fish","demand":"Normal demand","qty":0.8,"fill":0.975},
      {"food":"Fish","demand":"Normal demand","qty":1.1,"fill":0.98},
      {"food":"Fish","demand":"Normal demand","qty":1.4,"fill":0.97},
      {"food":"Fish","demand":"Normal demand","qty":0.2,"fill":0.96},
      {"food":"Fish","demand":"Normal demand","qty":0.6,"fill":0.955},
      {"food":"Fish","demand":"Normal demand","qty":0.9,"fill":0.945},
      {"food":"Fish","demand":"Normal demand","qty":1.3,"fill":0.95},
      {"food":"Fish","demand":"Normal demand","qty":1.6,"fill":0.94},
      {"food":"Fish","demand":"Campaign demand","qty":0.05,"fill":1.0},
      {"food":"Fish","demand":"Campaign demand","qty":0.2,"fill":0.998},
      {"food":"Fish","demand":"Campaign demand","qty":0.35,"fill":1.0},
      {"food":"Fish","demand":"Campaign demand","qty":0.5,"fill":0.996},
      {"food":"Fish","demand":"Campaign demand","qty":0.65,"fill":1.0},
      {"food":"Fish","demand":"Campaign demand","qty":0.8,"fill":0.998},
      {"food":"Fish","demand":"Campaign demand","qty":0.95,"fill":1.0},
      {"food":"Fish","demand":"Campaign demand","qty":1.1,"fill":0.995},
      {"food":"Fish","demand":"Campaign demand","qty":1.25,"fill":1.0},
      {"food":"Fish","demand":"Campaign demand","qty":1.4,"fill":0.998},
      {"food":"Fish","demand":"Campaign demand","qty":1.55,"fill":1.0},
      {"food":"Fish","demand":"Campaign demand","qty":1.7,"fill":0.996},
      {"food":"Fish","demand":"Campaign demand","qty":1.85,"fill":1.0},
      {"food":"Fish","demand":"Campaign demand","qty":2.0,"fill":0.998},
      {"food":"Fish","demand":"Campaign demand","qty":2.2,"fill":1.0},
      {"food":"Fish","demand":"Campaign demand","qty":2.4,"fill":0.995},
      {"food":"Fish","demand":"Campaign demand","qty":2.6,"fill":1.0},
      {"food":"Fish","demand":"Campaign demand","qty":2.8,"fill":0.998},
      {"food":"Fish","demand":"Campaign demand","qty":3.0,"fill":1.0},
      {"food":"Fish","demand":"Campaign demand","qty":3.2,"fill":0.996},
      {"food":"Fish","demand":"Campaign demand","qty":3.4,"fill":1.0},
      {"food":"Fish","demand":"Campaign demand","qty":3.6,"fill":0.998},
      {"food":"Fish","demand":"Campaign demand","qty":3.8,"fill":1.0},
      {"food":"Fish","demand":"Campaign demand","qty":4.0,"fill":0.997},
      {"food":"Fish","demand":"Campaign demand","qty":4.2,"fill":1.0},
      {"food":"Fish","demand":"Campaign demand","qty":4.45,"fill":0.998},
      {"food":"Fish","demand":"Campaign demand","qty":0.3,"fill":0.988},
      {"food":"Fish","demand":"Campaign demand","qty":0.6,"fill":0.985},
      {"food":"Fish","demand":"Campaign demand","qty":0.9,"fill":0.99},
      {"food":"Fish","demand":"Campaign demand","qty":1.2,"fill":0.984},
      {"food":"Fish","demand":"Campaign demand","qty":1.5,"fill":0.988},
      {"food":"Fish","demand":"Campaign demand","qty":1.8,"fill":0.985},
      {"food":"Fish","demand":"Campaign demand","qty":2.1,"fill":0.99},
      {"food":"Fish","demand":"Campaign demand","qty":2.4,"fill":0.986},
      {"food":"Fish","demand":"Campaign demand","qty":0.1,"fill":0.975},
      {"food":"Fish","demand":"Campaign demand","qty":0.4,"fill":0.97},
      {"food":"Fish","demand":"Campaign demand","qty":0.7,"fill":0.975},
      {"food":"Fish","demand":"Campaign demand","qty":1.0,"fill":0.968},
      {"food":"Fish","demand":"Campaign demand","qty":1.3,"fill":0.975},
      {"food":"Fish","demand":"Campaign demand","qty":1.6,"fill":0.96},
      {"food":"Fish","demand":"Campaign demand","qty":2.2,"fill":0.98},
      {"food":"Fish","demand":"Campaign demand","qty":2.7,"fill":0.985},
      {"food":"Fish","demand":"Campaign demand","qty":3.0,"fill":0.99},
      {"food":"Fish","demand":"Campaign demand","qty":0.2,"fill":0.96},
      {"food":"Fish","demand":"Campaign demand","qty":0.5,"fill":0.95},
      {"food":"Fish","demand":"Campaign demand","qty":0.3,"fill":0.93},
      {"food":"Fish","demand":"Campaign demand","qty":0.8,"fill":0.935},
      {"food":"Fish","demand":"Campaign demand","qty":1.4,"fill":0.925},
      {"food":"Fish","demand":"Campaign demand","qty":0.6,"fill":0.9},
      {"food":"Fish","demand":"Campaign demand","qty":1.2,"fill":0.89},
      {"food":"Fish","demand":"Campaign demand","qty":0.4,"fill":0.87},
      {"food":"Fish","demand":"Campaign demand","qty":1.5,"fill":0.91},
      {"food":"Fish","demand":"Campaign demand","qty":5.09,"fill":0.9937},
      {"food":"Fish","demand":"Campaign demand","qty":5.61,"fill":1.0},
      {"food":"Fish","demand":"Campaign demand","qty":7.31,"fill":1.0},
      {"food":"Fish","demand":"Campaign demand","qty":7.99,"fill":1.0},
      {"food":"Fish","demand":"Campaign demand","qty":10.7,"fill":1.0},
      {"food":"Fish","demand":"Campaign demand","qty":15.38,"fill":1.0},
      {"food":"Fish","demand":"Campaign demand","qty":6.47,"fill":0.9582},
      {"food":"Fish","demand":"Campaign demand","qty":5.32,"fill":0.94},
      {"food":"Fish","demand":"Campaign demand","qty":3.55,"fill":0.94},
      {"food":"Fish","demand":"Campaign demand","qty":3.55,"fill":0.9148},
      {"food":"Fish","demand":"Campaign demand","qty":3.96,"fill":0.9054},
      {"food":"Fish","demand":"Campaign demand","qty":4.59,"fill":0.8596},
      {"food":"Fish","demand":"Campaign demand","qty":3.39,"fill":0.8336},
      {"food":"Fish","demand":"Campaign demand","qty":4.12,"fill":0.8186},
      {"food":"Fish","demand":"Campaign demand","qty":4.14,"fill":0.6664},
      {"food":"Fish","demand":"Campaign demand","qty":2.49,"fill":0.9637},
      {"food":"Fish","demand":"Campaign demand","qty":2.04,"fill":0.9464},
      {"food":"Fish","demand":"Campaign demand","qty":1.92,"fill":0.9211},
      {"food":"Fish","demand":"Campaign demand","qty":1.24,"fill":0.9424},
      {"food":"Fish","demand":"Campaign demand","qty":1.02,"fill":0.9448},
      {"food":"Fish","demand":"Campaign demand","qty":0.68,"fill":0.9069},
      {"food":"Fish","demand":"Campaign demand","qty":0.45,"fill":0.9069},
      {"food":"Fish","demand":"Campaign demand","qty":0.9,"fill":0.8675},
      {"food":"Fish","demand":"Campaign demand","qty":1.02,"fill":0.8636},
      {"food":"Fish","demand":"Campaign demand","qty":0.68,"fill":0.8454},
      {"food":"Fish","demand":"Campaign demand","qty":0.45,"fill":0.8202},
      {"food":"Fish","demand":"Campaign demand","qty":1.02,"fill":0.8044},
      {"food":"Fish","demand":"Campaign demand","qty":1.36,"fill":0.8005},
      {"food":"Fish","demand":"Campaign demand","qty":0.34,"fill":0.7768},
      {"food":"Fish","demand":"Campaign demand","qty":1.02,"fill":0.7571},
      {"food":"Fish","demand":"Campaign demand","qty":0.68,"fill":0.7413},
      {"food":"Fish","demand":"Campaign demand","qty":0.68,"fill":0.7256},
      {"food":"Fish","demand":"Campaign demand","qty":0.97,"fill":0.6743},
      {"food":"Fish","demand":"Campaign demand","qty":0.23,"fill":0.653},
      {"food":"Fish","demand":"Campaign demand","qty":0.45,"fill":0.6506},
      {"food":"Fish","demand":"Campaign demand","qty":1.4,"fill":0.653},
      {"food":"Fish","demand":"Campaign demand","qty":0.52,"fill":0.5781},
      {"food":"Fish","demand":"Campaign demand","qty":0.75,"fill":0.5323},
      {"food":"Fish","demand":"Campaign demand","qty":1.7,"fill":0.5087},
      {"food":"Fish","demand":"Campaign demand","qty":0.41,"fill":0.5047},
      {"food":"Fish","demand":"Campaign demand","qty":1.29,"fill":0.485},
      {"food":"Fish","demand":"Campaign demand","qty":0.52,"fill":0.4653},
      {"food":"Fish","demand":"Campaign demand","qty":0.18,"fill":0.4511},
      {"food":"Fish","demand":"Campaign demand","qty":0.38,"fill":0.4432},
      {"food":"Fish","demand":"Campaign demand","qty":0.16,"fill":0.361},
      {"food":"Fish","demand":"Campaign demand","qty":0.3,"fill":0.351},
      {"food":"Fish","demand":"Campaign demand","qty":0.57,"fill":0.339},
      {"food":"Fish","demand":"Campaign demand","qty":0.3,"fill":0.309},
      {"food":"Fish","demand":"Campaign demand","qty":0.9,"fill":0.312},
      {"food":"Fish","demand":"Campaign demand","qty":0.16,"fill":0.242},
      {"food":"Fish","demand":"Campaign demand","qty":0.3,"fill":0.189},
      {"food":"Fish","demand":"Campaign demand","qty":0.23,"fill":0.038},
      {"food":"Fish","demand":"Campaign demand","qty":0.11,"fill":0.0},
      {"food":"Fish","demand":"Campaign demand","qty":0.23,"fill":0.0},
      {"food":"Fish","demand":"Campaign demand","qty":1.7,"fill":0.978},
      {"food":"Fish","demand":"Campaign demand","qty":2.15,"fill":0.974},
      {"food":"Fish","demand":"Campaign demand","qty":2.83,"fill":0.978},
      {"food":"Fish","demand":"Campaign demand","qty":3.96,"fill":0.998},
      {"food":"Fish","demand":"Campaign demand","qty":4.41,"fill":0.998},
      {"food":"Fish","demand":"Campaign demand","qty":1.47,"fill":0.95},
      {"food":"Fish","demand":"Campaign demand","qty":1.81,"fill":0.946},
      {"food":"Fish","demand":"Campaign demand","qty":0.79,"fill":0.927},
      {"food":"Fish","demand":"Campaign demand","qty":1.13,"fill":0.915},
      {"food":"Fish","demand":"Campaign demand","qty":1.47,"fill":0.907},
      {"food":"Fish","demand":"Campaign demand","qty":1.24,"fill":0.844},
      {"food":"Fish","demand":"Campaign demand","qty":0.79,"fill":0.824}
    ]
  },
  "hconcat": [
    {
      "spacing": 81,
      "vconcat": [
        {
          "width": 294, "height": 430,
          "layer": [
            {
              "data": {"name": "ellipses"},
              "transform": [{"filter": "datum.food === 'Beef'"}],
              "mark": {"type": "point", "filled": true, "size": 4, "opacity": 1, "strokeWidth": 0},
              "encoding": {
                "x": {"field": "qty", "type": "quantitative", "scale": {"domain": [0, 20], "nice": false}, "axis": {"values": [0, 10, 20], "title": "Order quantity (1,000s)"}},
                "y": {"field": "fill", "type": "quantitative", "scale": {"domain": [0.5, 1.0094], "nice": false, "zero": false}, "axis": {"values": [0.5, 0.6, 0.7, 0.8, 0.9, 1.0], "format": ".2f", "title": "Fill-rate", "titleY": 154}},
                "color": {"field": "cluster", "type": "nominal", "scale": {"domain": ["normal", "campaign"], "range": ["#d9d9d9", "#cfe5fa"]}, "legend": null},
                "shape": {"field": "id", "type": "nominal", "scale": {"domain": ["beefC1","beefC2","beefN","porkC","porkN","chickC","chickN","fishC1","fishC2","fishN"], "range": ["M-128,0A128,22 0 1,0 128,0A128,22 0 1,0 -128,0Z","M-28,0A28,95 0 1,0 28,0A28,95 0 1,0 -28,0Z","M-34,0A34,62 0 1,0 34,0A34,62 0 1,0 -34,0Z","M-118,0A118,23 0 1,0 118,0A118,23 0 1,0 -118,0Z","M-41,0A41,140 0 1,0 41,0A41,140 0 1,0 -41,0Z","M-94,0A94,23 0 1,0 94,0A94,23 0 1,0 -94,0Z","M-30,0A30,148 0 1,0 30,0A30,148 0 1,0 -30,0Z","M-90,0A90,23 0 1,0 90,0A90,23 0 1,0 -90,0Z","M-22,0A22,137 0 1,0 22,0A22,137 0 1,0 -22,0Z","M-25,0A25,58 0 1,0 25,0A25,58 0 1,0 -25,0Z"]}, "legend": null}
              }
            },
            {
              "data": {"name": "points"},
              "transform": [{"filter": "datum.food === 'Beef' && datum.demand === 'Normal demand'"}],
              "mark": {"type": "point", "shape": "triangle-up", "filled": false, "size": 110, "opacity": 1, "color": "#808080", "strokeWidth": 1.3},
              "encoding": {"x": {"field": "qty", "type": "quantitative"}, "y": {"field": "fill", "type": "quantitative"}}
            },
            {
              "data": {"name": "points"},
              "transform": [{"filter": "datum.food === 'Beef' && datum.demand === 'Campaign demand'"}],
              "mark": {"type": "point", "shape": "circle", "filled": false, "size": 95, "opacity": 1, "color": "#1f3864", "strokeWidth": 1},
              "encoding": {"x": {"field": "qty", "type": "quantitative"}, "y": {"field": "fill", "type": "quantitative"}}
            },
            {
              "data": {"values": [{}]},
              "mark": {"type": "text", "text": "Beef", "font": "DejaVu Serif", "fontStyle": "italic", "fontSize": 22, "align": "right", "baseline": "alphabetic", "color": "black"},
              "encoding": {"x": {"datum": 19.3, "type": "quantitative"}, "y": {"datum": 0.544, "type": "quantitative"}}
            },
            {
              "data": {"name": "legendKeys"},
              "mark": {"type": "point", "filled": true, "size": 0, "opacity": 1, "strokeWidth": 0},
              "encoding": {
                "fill": {"field": "demand", "type": "nominal", "scale": {"domain": ["Normal demand", "Campaign demand"], "range": ["#d9d9d9", "#a3cdf8"]},
                  "legend": {"title": null, "orient": "none", "legendX": -33, "legendY": 1134, "direction": "horizontal", "symbolType": "M-1,0A1,0.32 0 1,0 1,0A1,0.32 0 1,0 -1,0Z", "symbolSize": 15625, "symbolOpacity": 1, "symbolStrokeWidth": 0, "labelFont": "DejaVu Serif", "labelFontSize": 22, "labelColor": "black", "labelOffset": 12, "columnPadding": 57, "padding": 0, "labelLimit": 400}}
              }
            }
          ]
        },
        {
          "width": 299, "height": 427,
          "layer": [
            {
              "data": {"name": "ellipses"},
              "transform": [{"filter": "datum.food === 'Chicken'"}],
              "mark": {"type": "point", "filled": true, "size": 4, "opacity": 1, "strokeWidth": 0},
              "encoding": {
                "x": {"field": "qty", "type": "quantitative", "scale": {"domain": [0, 20], "nice": false}, "axis": {"values": [0, 10, 20], "title": "Order quantity (1,000s)"}},
                "y": {"field": "fill", "type": "quantitative", "scale": {"domain": [0.6, 1.0103], "nice": false, "zero": false}, "axis": {"values": [0.6, 0.7, 0.8, 0.9, 1.0], "format": ".2f", "title": "Fill-rate", "titleY": 147}},
                "color": {"field": "cluster", "type": "nominal", "scale": {"domain": ["normal", "campaign"], "range": ["#d9d9d9", "#cfe5fa"]}, "legend": null},
                "shape": {"field": "id", "type": "nominal", "legend": null}
              }
            },
            {
              "data": {"name": "points"},
              "transform": [{"filter": "datum.food === 'Chicken' && datum.demand === 'Normal demand'"}],
              "mark": {"type": "point", "shape": "triangle-up", "filled": false, "size": 110, "opacity": 1, "color": "#808080", "strokeWidth": 1.3},
              "encoding": {"x": {"field": "qty", "type": "quantitative"}, "y": {"field": "fill", "type": "quantitative"}}
            },
            {
              "data": {"name": "points"},
              "transform": [{"filter": "datum.food === 'Chicken' && datum.demand === 'Campaign demand'"}],
              "mark": {"type": "point", "shape": "circle", "filled": false, "size": 45, "opacity": 1, "color": "#1f3864", "strokeWidth": 1},
              "encoding": {"x": {"field": "qty", "type": "quantitative"}, "y": {"field": "fill", "type": "quantitative"}}
            },
            {
              "data": {"values": [{}]},
              "mark": {"type": "text", "text": "Chicken", "font": "DejaVu Serif", "fontStyle": "italic", "fontSize": 22, "align": "right", "baseline": "alphabetic", "color": "black"},
              "encoding": {"x": {"datum": 19.0, "type": "quantitative"}, "y": {"datum": 0.644, "type": "quantitative"}}
            }
          ]
        }
      ]
    },
    {
      "spacing": 77,
      "vconcat": [
        {
          "width": 297, "height": 436,
          "view": {"stroke": null},
          "layer": [
            {
              "data": {"name": "ellipses"},
              "transform": [{"filter": "datum.food === 'Pork'"}],
              "mark": {"type": "point", "filled": true, "size": 4, "opacity": 1, "strokeWidth": 0},
              "encoding": {
                "x": {"field": "qty", "type": "quantitative", "scale": {"domain": [0, 20], "nice": false}, "axis": {"values": [0, 10, 20], "title": "Order quantity (1,000s)"}},
                "y": {"field": "fill", "type": "quantitative", "scale": {"domain": [0.8, 1.0067], "nice": false, "zero": false}, "axis": {"values": [0.8, 0.85, 0.9, 0.95, 1.0], "format": ".2f", "title": "Fill-rate", "titleY": 166, "domain": false}},
                "color": {"field": "cluster", "type": "nominal", "scale": {"domain": ["normal", "campaign"], "range": ["#d9d9d9", "#cfe5fa"]}, "legend": null},
                "shape": {"field": "id", "type": "nominal", "legend": null}
              }
            },
            {
              "data": {"values": [{}]},
              "mark": {"type": "rule", "color": "black", "strokeWidth": 1},
              "encoding": {"x": {"datum": 0, "type": "quantitative"}, "x2": {"datum": 20}, "y": {"datum": 1.0006, "type": "quantitative"}}
            },
            {
              "data": {"values": [{}]},
              "mark": {"type": "rule", "color": "black", "strokeWidth": 1},
              "encoding": {"x": {"datum": 20, "type": "quantitative"}, "y": {"datum": 0.8, "type": "quantitative"}, "y2": {"datum": 1.0006}}
            },
            {
              "data": {"values": [{}]},
              "mark": {"type": "rule", "color": "black", "strokeWidth": 1},
              "encoding": {"x": {"datum": 0, "type": "quantitative"}, "y": {"datum": 0.8, "type": "quantitative"}, "y2": {"datum": 1.0006}}
            },
            {
              "data": {"name": "points"},
              "transform": [{"filter": "datum.food === 'Pork' && datum.demand === 'Normal demand'"}],
              "mark": {"type": "point", "shape": "triangle-up", "filled": false, "size": 110, "opacity": 1, "color": "#808080", "strokeWidth": 1.3},
              "encoding": {"x": {"field": "qty", "type": "quantitative"}, "y": {"field": "fill", "type": "quantitative"}}
            },
            {
              "data": {"name": "points"},
              "transform": [{"filter": "datum.food === 'Pork' && datum.demand === 'Campaign demand'"}],
              "mark": {"type": "point", "shape": "circle", "filled": false, "size": 90, "opacity": 1, "color": "#1f3864", "strokeWidth": 1},
              "encoding": {"x": {"field": "qty", "type": "quantitative"}, "y": {"field": "fill", "type": "quantitative"}}
            },
            {
              "data": {"values": [{}]},
              "mark": {"type": "text", "text": "Pork", "font": "DejaVu Serif", "fontStyle": "italic", "fontSize": 22, "align": "right", "baseline": "alphabetic", "color": "black"},
              "encoding": {"x": {"datum": 19.1, "type": "quantitative"}, "y": {"datum": 0.818, "type": "quantitative"}}
            }
          ]
        },
        {
          "width": 294, "height": 427,
          "layer": [
            {
              "data": {"name": "ellipses"},
              "transform": [{"filter": "datum.food === 'Fish'"}],
              "mark": {"type": "point", "filled": true, "size": 4, "opacity": 1, "strokeWidth": 0},
              "encoding": {
                "x": {"field": "qty", "type": "quantitative", "scale": {"domain": [0, 20], "nice": false}, "axis": {"values": [0, 10, 20], "title": "Order quantity (1,000s)"}},
                "y": {"field": "fill", "type": "quantitative", "scale": {"domain": [0, 1.012], "nice": false}, "axis": {"values": [0, 0.1, 0.2, 0.3, 0.4, 0.5, 0.6, 0.7, 0.8, 0.9, 1.0], "format": ".2f", "title": "Fill-rate", "titleY": 151}},
                "color": {"field": "cluster", "type": "nominal", "scale": {"domain": ["normal", "campaign"], "range": ["#d9d9d9", "#cfe5fa"]}, "legend": null},
                "shape": {"field": "id", "type": "nominal", "legend": null}
              }
            },
            {
              "data": {"name": "points"},
              "transform": [{"filter": "datum.food === 'Fish' && datum.demand === 'Normal demand'"}],
              "mark": {"type": "point", "shape": "triangle-up", "filled": false, "size": 110, "opacity": 1, "color": "#808080", "strokeWidth": 1.3},
              "encoding": {"x": {"field": "qty", "type": "quantitative"}, "y": {"field": "fill", "type": "quantitative"}}
            },
            {
              "data": {"name": "points"},
              "transform": [{"filter": "datum.food === 'Fish' && datum.demand === 'Campaign demand'"}],
              "mark": {"type": "point", "shape": "circle", "filled": false, "size": 95, "opacity": 1, "color": "#1f3864", "strokeWidth": 1},
              "encoding": {"x": {"field": "qty", "type": "quantitative"}, "y": {"field": "fill", "type": "quantitative"}}
            },
            {
              "data": {"values": [{}]},
              "mark": {"type": "text", "text": "Fish", "font": "DejaVu Serif", "fontStyle": "italic", "fontSize": 22, "align": "right", "baseline": "alphabetic", "color": "black"},
              "encoding": {"x": {"datum": 19.0, "type": "quantitative"}, "y": {"datum": 0.099, "type": "quantitative"}}
            }
          ]
        }
      ]
    }
  ],
  "spacing": 47,
  "config": {
    "view": {"stroke": "black", "strokeWidth": 1},
    "axis": {
      "grid": false, "domainColor": "black", "domainWidth": 1, "tickColor": "black", "tickSize": 7,
      "labelFont": "DejaVu Serif", "labelFontSize": 18, "labelColor": "black", "labelPadding": 12,
      "titleFont": "DejaVu Serif", "titleFontSize": 19.5, "titleFontWeight": "bold", "titleColor": "black"
    },
    "axisX": {"titlePadding": 26, "labelFlush": false},
    "axisY": {"titlePadding": 14}
  }
}
